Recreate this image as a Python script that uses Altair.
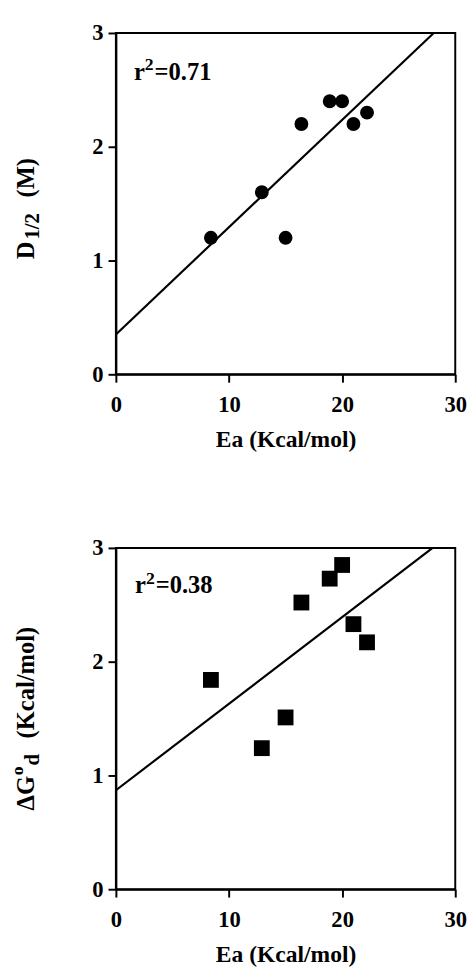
import altair as alt
import pandas as pd

# ---------------- data ----------------
ea = [8.4, 12.9, 15.0, 16.4, 18.9, 20.0, 21.0, 22.2]
d_half = [1.2, 1.6, 1.2, 2.2, 2.4, 2.4, 2.2, 2.3]
dg_d = [1.84, 1.24, 1.51, 2.52, 2.73, 2.85, 2.33, 2.17]
fit_top_x = [0.0, 28.1]
fit_top_y = [0.35, 3.0]
fit_bot_x = [0.0, 28.0]
fit_bot_y = [0.87, 3.0]
r2_values = ["0.71", "0.38"]
r2_pos_x = [1.6, 1.7]
r2_pos_y = [2.59, 2.60]
x_ticks = [0, 10, 20, 30]
y_ticks = [0, 1, 2, 3]
x_title = "Ea (Kcal/mol)"
# (text, kind, gap before) kind: 0 normal, 1 subscript, -1 superscript
top_ytitle = [("D", 0, 0), ("1/2", 1, 2), ("(M)", 0, 16)]
bot_ytitle = [("ΔG", 0, 0), ("o", -1, 1), ("d", 1, 1), ("(Kcal/mol)", 0, 16)]

# ---------------- style ----------------
FONT = "'Liberation Serif', 'Times New Roman', Times, serif"
W, H = 346, 348
FS_LAB = 23
FS_T = 24
FS_YT = 25
FS_SUB = 21
TB = {' ': 250, '(': 333, ')': 333, '/': 278, '=': 570, 'D': 722, 'E': 667,
      'G': 778, 'K': 778, 'M': 944, 'a': 500, 'c': 444, 'd': 556, 'l': 278,
      'm': 833, 'o': 500, 'r': 444, 'Δ': 612}


def tw(s, fs):
    return sum(TB.get(c, 500) for c in s) * fs / 1000.0


one = pd.DataFrame({"k": [0]})


def ytitle_layers(pieces, x_px, y_px):
    sizes = {0: FS_YT, 1: FS_SUB, -1: 18}
    shifts = {0: 0, 1: 7, -1: -9}
    total = sum(tw(t, sizes[k]) + g for t, k, g in pieces)
    off = -total / 2.0
    layers = []
    for t, k, g in pieces:
        off += g
        layers.append(
            alt.Chart(one).mark_text(
                text=t, angle=270, align="left", baseline="middle", font=FONT,
                fontWeight="bold", fontSize=sizes[k], dx=off, dy=shifts[k], color="black"
            ).encode(x=alt.value(x_px), y=alt.value(y_px))
        )
        off += tw(t, sizes[k])
    return layers


def panel(yvals, fx, fy, idx, shape, size, pieces, title_shift):
    pts = pd.DataFrame({"ea": ea, "y": yvals})
    fit = pd.DataFrame({"ea": fx, "y": fy})
    lab = pd.DataFrame({"ea": [r2_pos_x[idx]], "y": [r2_pos_y[idx]]})
    xsc = alt.Scale(domain=[0, 30], nice=False, zero=False)
    ysc = alt.Scale(domain=[0, 3], nice=False, zero=False)
    xenc = alt.X("ea:Q", scale=xsc,
                 axis=alt.Axis(values=x_ticks, title=x_title, format="d",
                               labelPadding=12, titlePadding=12, labelFlush=False,
                               labelOverlap=False, labelBound=False))
    yenc = alt.Y("y:Q", scale=ysc,
                 axis=alt.Axis(values=y_ticks, title=None, format="d",
                               labelPadding=5, labelFlush=False, labelOverlap=False))
    line = alt.Chart(fit).mark_line(color="black", strokeWidth=2.2).encode(x=xenc, y=yenc)
    dots = alt.Chart(pts).mark_point(shape=shape, filled=True, size=size,
                                     color="black", opacity=1).encode(x="ea:Q", y="y:Q")
    tcommon = dict(font=FONT, fontWeight="bold", color="black", align="left",
                   baseline="alphabetic")
    r1 = alt.Chart(lab).mark_text(text="r", fontSize=25, **tcommon).encode(x="ea:Q", y="y:Q")
    r2 = alt.Chart(lab).mark_text(text="2", fontSize=18, dx=11, dy=-10, **tcommon).encode(x="ea:Q", y="y:Q")
    r3 = alt.Chart(lab).mark_text(text="=" + r2_values[idx], fontSize=25, dx=21, **tcommon).encode(x="ea:Q", y="y:Q")
    layers = [line, dots, r1, r2, r3] + ytitle_layers(pieces, -91, H / 2.0 + title_shift)
    return alt.layer(*layers).properties(width=W, height=H)


top = panel(d_half, fit_top_x, fit_top_y, 0, "circle", 200, top_ytitle, 5)
bot = panel(dg_d, fit_bot_x, fit_bot_y, 1, "square", 260, bot_ytitle, 0)

chart = alt.vconcat(top, bot, spacing=85).configure_view(
    stroke="black", strokeWidth=2
).configure_axis(
    domainColor="black", domainWidth=2, tickColor="black", tickWidth=2, tickSize=8,
    labelFont=FONT, labelFontWeight="bold", labelFontSize=FS_LAB, labelColor="black",
    titleFont=FONT, titleFontWeight="bold", titleFontSize=FS_T, titleColor="black",
    grid=False
).properties(
    padding={"left": 0, "top": 4, "right": 0, "bottom": 0},
    background="white"
)

chart.save("out.html", embed_options={"renderer": "svg", "actions": False})
